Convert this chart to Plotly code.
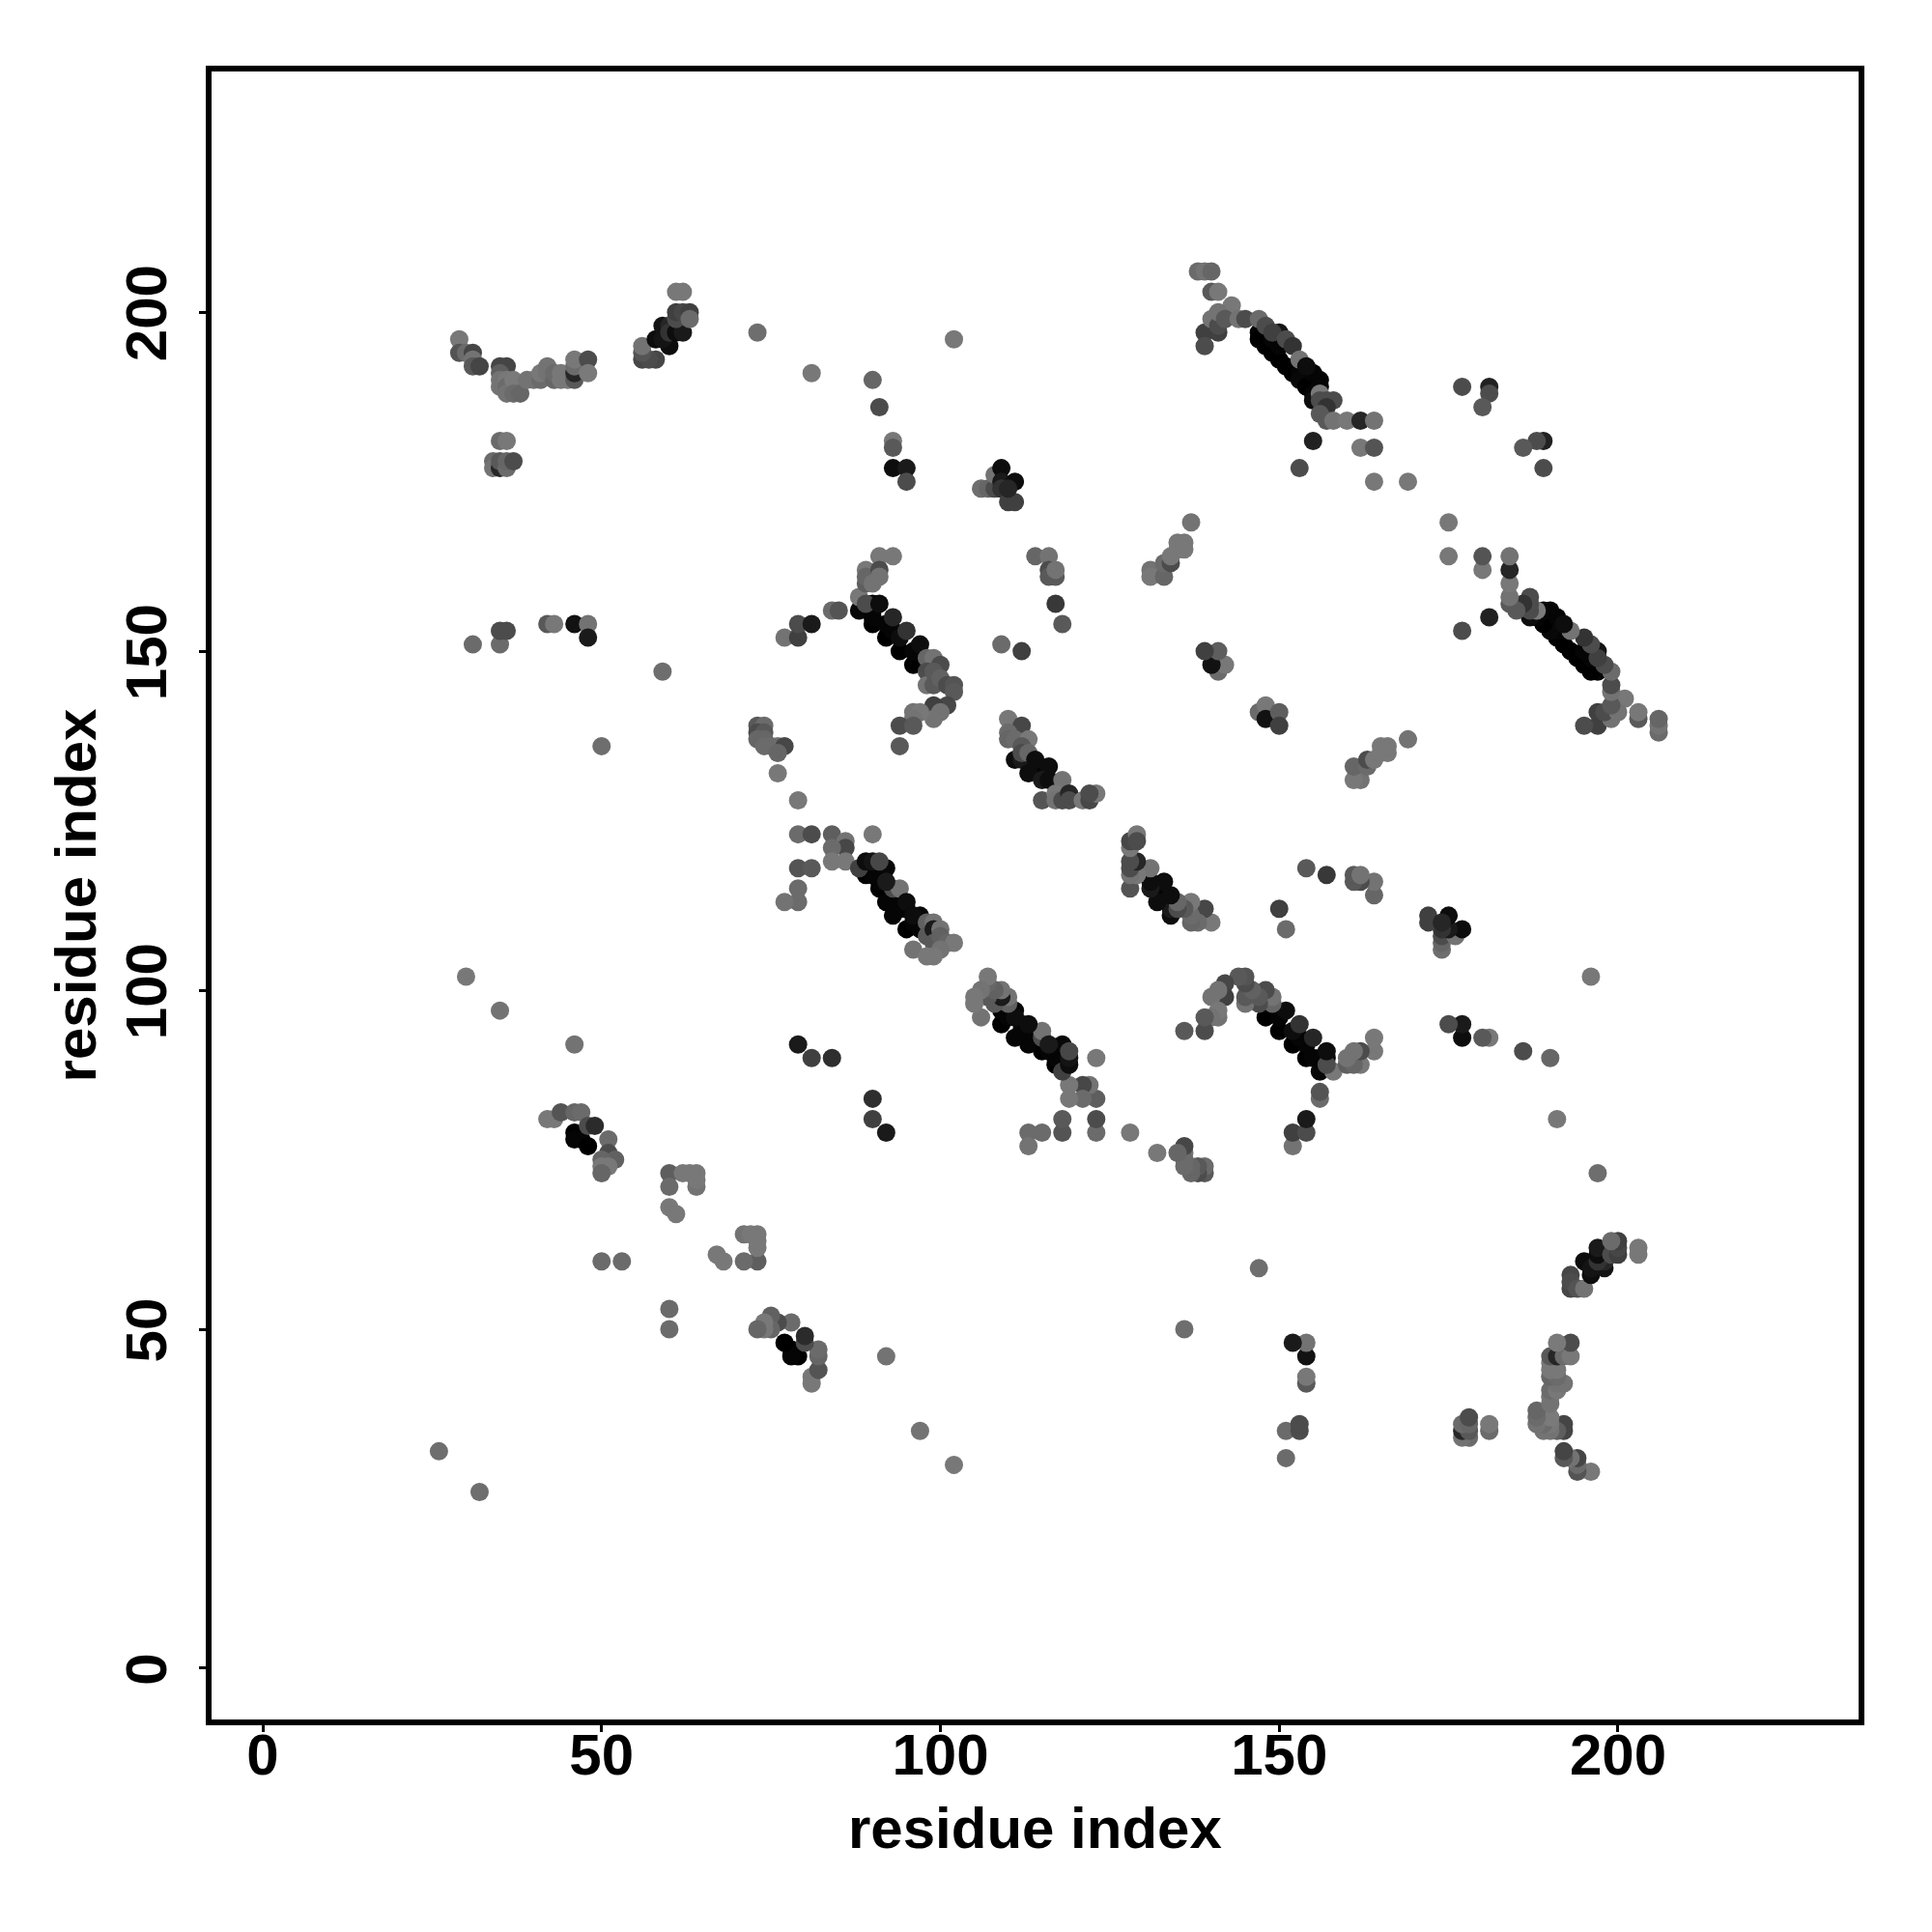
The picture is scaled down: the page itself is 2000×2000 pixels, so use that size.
import plotly.graph_objects as go

tick_values = [0, 50, 100, 150, 200]
axis_label = "residue index"

# one triangle of the symmetric contact map: residue i, residue j, grey shade (0 black .. 1 white)
contact_i = [
 29,29,30,31,31,31,32,35,36,35,35,35,36,36,36,37,37,38,39,40,41,41,42,42,43,43,44,44,45,46,46,46,46,48,48,
 56,58,57,56,56,58,60,59,59,60,60,61,62,61,61,62,63,63,61,62,
 73,81,90,91,93,93,93,95,95,102,
 35,36,34,34,35,35,36,36,37,
 31,35,35,36,42,43,46,48,48,59,50,77,79,79,81,84,85,
 88,88,89,89,89,91,93,91,91,90,89,90,91,90,90,90,92,92,93,93,94,94,95,96,96,97,98,98,99,100,98,98,99,99,100,101,102,102,101,99,100,99,96,97,96,94,96,94,
 106,107,108,108,109,109,109,111,110,111,110,
 114,116,116,116,117,117,117,118,109,112,
 131,131,133,133,134,134,135,135,136,136,137,
 138,139,140,140,141,143,139,139,141,140,141,141,142,144,145,147,148,
 147,147,148,149,149,150,150,151,152,153,153,154,155,155,156,
 150,149,151,152,153,154,155,156,156,156,157,158,157,156,157,158,160,162,164,155,153,162,164,164,169,
 177,181,181,180,
 73,74,73,74,73,74,74,76,75,77,76,76,79,79,81,84,86,86,84,84,86,90,79,81,79,79,77,
 88,89,90,91,89,90,92,91,91,92,93,94,92,93,95,95,93,94,97,95,96,96,97,98,99,96,98,99,100,99,100,101,102,100,99,98,
 110,112,110,110,111,113,112,111,112,112,113,114,113,114,116,115,116,118,115,117,117,118,119,119,121,122,123,122,
 79,81,84,30,35,46,26,
 42,43,44,46,47,48,49,46,46,47,48,51,51,52,50,50,51,50,
 60,62,63,64,60,64,64,60,61,50,53,
 141,142,140,141,139,
]
contact_j = [
 196,194,194,194,193,192,192,192,192,191,190,189,190,189,188,190,188,188,190,190,190,191,192,191,190,191,190,191,190,190,191,192,193,193,191,
 193,193,193,194,195,196,195,198,196,198,197,197,197,199,200,200,200,199,203,203,
 197,191,190,186,181,180,177,177,175,196,
 181,181,178,177,177,178,177,178,178,
 151,151,153,153,154,154,154,154,152,147,136,152,152,154,154,156,156,
 158,156,162,160,161,164,164,162,161,160,157,157,157,154,156,155,152,154,155,153,150,152,153,148,150,151,149,148,149,148,147,145,145,147,146,145,145,144,142,142,141,140,141,141,140,139,139,136,
 174,174,174,176,177,175,174,175,172,172,174,
 164,164,162,161,161,162,157,154,151,150,
 162,161,161,163,163,164,165,166,166,165,169,
 206,206,206,203,203,201,197,195,197,199,198,200,199,199,199,199,198,
 197,196,195,194,196,193,195,192,191,191,190,189,188,187,189,
 197,197,196,195,193,192,191,190,188,187,187,187,186,185,184,184,184,184,184,181,177,180,180,175,175,
 189,189,188,186,
 139,139,138,138,137,137,136,136,136,136,135,132,128,123,123,123,122,121,121,119,119,123,118,118,115,113,113,
 118,119,119,119,117,117,118,115,116,113,115,115,116,114,113,112,111,112,111,109,110,111,109,110,110,106,108,109,109,107,108,107,107,106,105,105,
 140,139,138,137,137,137,136,134,134,135,135,134,132,133,133,131,131,131,128,129,128,128,129,128,128,128,129,129,
 92,90,90,102,97,92,32,
 81,81,82,82,82,80,80,79,78,78,77,78,76,75,75,74,74,73,
 73,73,73,73,71,71,72,68,67,60,60,
 147,148,148,150,150,
]
contact_shade = [
 .47,.33,.42,.27,.45,.35,.27,.27,.27,.37,.45,.45,.47,.42,.45,.48,.42,.40,.45,.45,.42,.47,.45,.45,.40,.42,.47,.47,.47,.35,.15,.42,.47,.30,.48,
 .28,.28,.30,.33,.45,.05,.05,.08,.08,.15,.20,.05,.10,.30,.25,.28,.25,.42,.47,.47,
 .43,.47,.40,.30,.47,.35,.05,.10,.30,.47,
 .42,.47,.42,.45,.15,.35,.42,.40,.30,
 .42,.42,.30,.30,.35,.47,.07,.45,.10,.43,.43,.45,.25,.30,.10,.42,.33,
 .47,.03,.47,.37,.40,.47,.47,.30,.45,.45,.30,.03,.05,.00,.02,.02,.00,.02,.15,.02,.00,.05,.20,.00,.02,.05,.40,.02,.45,.30,.30,.45,.35,.35,.38,.30,.33,.35,.28,.25,.45,.45,.45,.47,.45,.30,.35,.35,
 .43,.40,.30,.45,.05,.10,.20,.05,.25,.25,.15,
 .40,.45,.30,.35,.35,.45,.22,.35,.42,.25,
 .45,.47,.40,.42,.30,.47,.47,.47,.47,.47,.45,
 .42,.45,.40,.35,.47,.47,.25,.30,.25,.45,.30,.45,.35,.45,.30,.42,.30,
 .02,.00,.00,.00,.02,.00,.02,.00,.00,.02,.03,.00,.02,.05,.03,
 .08,.25,.30,.20,.45,.05,.02,.02,.48,.30,.30,.30,.20,.35,.35,.45,.47,.15,.45,.13,.30,.47,.33,.47,.47,
 .30,.13,.30,.35,
 .35,.42,.30,.35,.40,.40,.42,.45,.42,.28,.40,.47,.47,.42,.30,.37,.45,.28,.42,.47,.47,.47,.33,.35,.42,.42,.45,
 .25,.05,.08,.28,.00,.02,.03,.00,.02,.02,.30,.45,.10,.02,.05,.02,.02,.02,.03,.00,.02,.05,.02,.38,.45,.45,.35,.10,.45,.35,.38,.40,.47,.45,.47,.47,
 .47,.28,.42,.40,.42,.47,.35,.05,.10,.30,.40,.05,.05,.02,.05,.10,.05,.45,.33,.47,.45,.30,.15,.30,.47,.28,.47,.30,
 .10,.25,.18,.47,.45,.45,.43,
 .47,.47,.33,.40,.42,.30,.17,.00,.02,.02,.00,.42,.30,.38,.40,.47,.47,.40,
 .37,.47,.47,.47,.42,.45,.47,.47,.47,.42,.42,
 .42,.47,.07,.37,.25,
]

# the blackest contacts lie underneath; everything else keeps its listed order
order = sorted(range(len(contact_shade)), key=lambda k: contact_shade[k] > .03)
xs = [contact_i[k] for k in order] + [contact_j[k] for k in order]
ys = [contact_j[k] for k in order] + [contact_i[k] for k in order]
greys = [contact_shade[k] for k in order] * 2
shades = [f"rgb({round(s*255)},{round(s*255)},{round(s*255)})" for s in greys]

fig = go.Figure(go.Scatter(
    x=xs,
    y=ys,
    mode="markers",
    marker=dict(size=19, color=shades, line=dict(width=0)),
    hoverinfo="skip",
))

font = dict(family="Liberation Sans", size=60, color="black", weight="bold")
axis = dict(
    range=[-7.555, 235.5],
    tickmode="array",
    tickvals=tick_values,
    ticktext=[str(v) for v in tick_values],
    ticks="outside",
    ticklen=7,
    tickwidth=3,
    tickcolor="black",
    tickfont=font,
    showgrid=False,
    zeroline=False,
    showline=True,
    linecolor="black",
    linewidth=6,
    mirror=True,
)
fig.update_xaxes(**axis, ticklabelstandoff=-28)
fig.update_yaxes(**axis, tickangle=-90, ticklabelstandoff=10, ticklabelshift=10, title=dict(text=axis_label, font=font, standoff=1))
fig.add_annotation(text=axis_label, font=font, showarrow=False, xref="paper", yref="paper",
                   x=0.5, y=0, xanchor="center", yanchor="middle", yshift=-112)
fig.update_layout(
    width=2000, height=2000,
    margin=dict(l=211, r=84, t=66, b=228),
    paper_bgcolor="white", plot_bgcolor="white",
    showlegend=False,
)
fig.write_html("out.html")
